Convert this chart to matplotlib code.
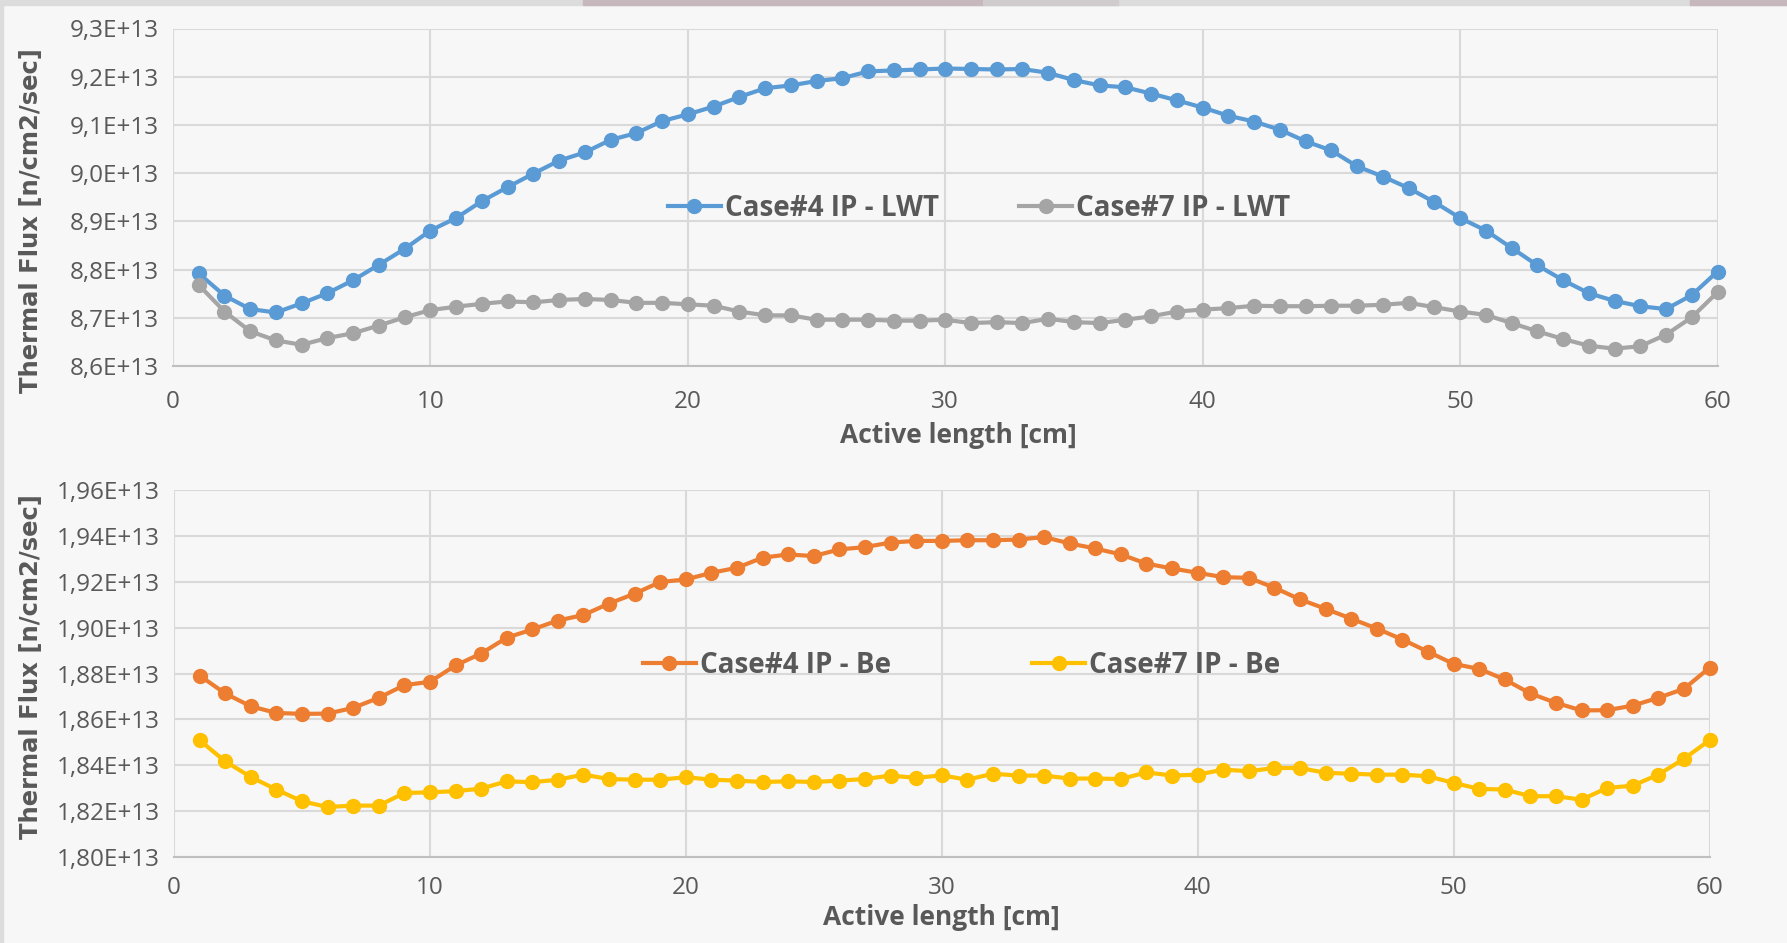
import numpy as np
import matplotlib.pyplot as plt
from matplotlib.patches import Rectangle
from matplotlib.ticker import FuncFormatter

x = list(range(1, 61))

# top chart, units of 1e13 n/cm2/sec
case4_lwt = [8.792, 8.746, 8.718, 8.711, 8.730, 8.751, 8.778, 8.810, 8.843, 8.881,
             8.907, 8.942, 8.971, 8.999, 9.026, 9.043, 9.069, 9.083, 9.108, 9.122,
             9.138, 9.158, 9.176, 9.182, 9.191, 9.197, 9.211, 9.213, 9.215, 9.217,
             9.216, 9.215, 9.216, 9.208, 9.193, 9.182, 9.178, 9.165, 9.151, 9.136,
             9.119, 9.107, 9.090, 9.066, 9.047, 9.014, 8.993, 8.969, 8.940, 8.907,
             8.881, 8.845, 8.809, 8.778, 8.751, 8.735, 8.724, 8.718, 8.747, 8.796]
case7_lwt = [8.768, 8.713, 8.672, 8.653, 8.644, 8.658, 8.668, 8.684, 8.701, 8.716,
             8.723, 8.729, 8.734, 8.732, 8.737, 8.739, 8.737, 8.731, 8.731, 8.728,
             8.725, 8.713, 8.705, 8.705, 8.696, 8.696, 8.696, 8.694, 8.694, 8.696,
             8.689, 8.691, 8.689, 8.698, 8.691, 8.689, 8.696, 8.703, 8.713, 8.717,
             8.720, 8.725, 8.724, 8.724, 8.725, 8.725, 8.727, 8.731, 8.722, 8.713,
             8.706, 8.689, 8.672, 8.656, 8.642, 8.636, 8.641, 8.665, 8.701, 8.753]

# bottom chart
case4_be = [1.8791, 1.8713, 1.8657, 1.8628, 1.8624, 1.8625, 1.8650, 1.8694, 1.8749, 1.8764,
            1.8835, 1.8887, 1.8956, 1.8992, 1.9031, 1.9055, 1.9105, 1.9148, 1.9199, 1.9210,
            1.9239, 1.9261, 1.9305, 1.9319, 1.9312, 1.9341, 1.9351, 1.9371, 1.9378, 1.9378,
            1.9381, 1.9381, 1.9384, 1.9395, 1.9367, 1.9345, 1.9319, 1.9279, 1.9258, 1.9239,
            1.9220, 1.9217, 1.9174, 1.9123, 1.9082, 1.9039, 1.8996, 1.8948, 1.8895, 1.8842,
            1.8820, 1.8774, 1.8713, 1.8672, 1.8639, 1.8640, 1.8660, 1.8694, 1.8733, 1.8825]
case7_be = [1.8509, 1.8417, 1.8349, 1.8294, 1.8243, 1.8218, 1.8224, 1.8224, 1.8279, 1.8282,
            1.8287, 1.8298, 1.8330, 1.8326, 1.8337, 1.8359, 1.8340, 1.8337, 1.8337, 1.8348,
            1.8337, 1.8333, 1.8327, 1.8330, 1.8327, 1.8333, 1.8340, 1.8355, 1.8345, 1.8356,
            1.8337, 1.8363, 1.8355, 1.8355, 1.8342, 1.8342, 1.8340, 1.8369, 1.8355, 1.8359,
            1.8381, 1.8374, 1.8388, 1.8388, 1.8367, 1.8363, 1.8359, 1.8359, 1.8352, 1.8323,
            1.8297, 1.8294, 1.8265, 1.8265, 1.8250, 1.8301, 1.8311, 1.8359, 1.8428, 1.8509]

top_ticks = [8.6, 8.7, 8.8, 8.9, 9.0, 9.1, 9.2, 9.3]
bot_ticks = [1.80, 1.82, 1.84, 1.86, 1.88, 1.90, 1.92, 1.94, 1.96]

txt = "#595959"
bg = "#f7f7f7"

plt.rcParams["font.family"] = ["Open Sans", "DejaVu Sans"]

fig = plt.figure(figsize=(17.87, 9.43), dpi=100, facecolor=bg)

# screenshot strip along the top and left
fig.patches.append(Rectangle((0, 1 - 5 / 943), 1, 5 / 943, transform=fig.transFigure,
                             color="#dcdcdc", zorder=0))
fig.patches.append(Rectangle((583 / 1787, 1 - 5 / 943), 400 / 1787, 5 / 943,
                             transform=fig.transFigure, color="#c6b8bd", zorder=1))
fig.patches.append(Rectangle((983 / 1787, 1 - 5 / 943), 135 / 1787, 5 / 943,
                             transform=fig.transFigure, color="#d0cbcd", zorder=1))
fig.patches.append(Rectangle((1690 / 1787, 1 - 5 / 943), 97 / 1787, 5 / 943,
                             transform=fig.transFigure, color="#c6b8bd", zorder=1))
fig.patches.append(Rectangle((0, 0), 3 / 1787, 1, transform=fig.transFigure,
                             color="#dcdcdc", zorder=0))

ax1 = fig.add_axes([173 / 1787, 1 - 366 / 943, 1544.5 / 1787, 337.5 / 943])
ax2 = fig.add_axes([174 / 1787, 1 - 857 / 943, 1535.5 / 1787, 367 / 943])


def style(ax, yticks, fmt, ylab_pos, xlab_pos, xpad):
    ax.set_facecolor(bg)
    ax.set_xlim(0, 60)
    ax.set_ylim(yticks[0], yticks[-1])
    ax.set_xticks(range(0, 61, 10))
    ax.set_yticks(yticks)
    ax.yaxis.set_major_formatter(FuncFormatter(lambda v, p: (fmt % v).replace(".", ",") + "E+13"))
    ax.grid(True, color="#d9d9d9", lw=1.5)
    ax.set_axisbelow(True)
    for s in ["top", "right", "left"]:
        ax.spines[s].set_visible(False)
    ax.spines["bottom"].set_color("#bfbfbf")
    ax.spines["bottom"].set_linewidth(1.5)
    ax.tick_params(length=0, labelsize=17.5, colors=txt, pad=10)
    ax.tick_params(axis="x", pad=xpad)
    ax.set_ylabel("Thermal Flux [n/cm2/sec]", family="DejaVu Sans", fontweight="bold",
                  fontsize=17.5, color=txt)
    ax.yaxis.set_label_coords(*ylab_pos)
    ax.set_xlabel("Active length [cm]", fontweight="bold", fontsize=19, color=txt)
    ax.xaxis.set_label_coords(*xlab_pos)
    ax.xaxis.label.set_va("center")
    ax.yaxis.label.set_va("center")


style(ax1, top_ticks, "%.1f", (-0.092, 0.43), (0.5086, -0.207), 17)
style(ax2, bot_ticks, "%.2f", (-0.093, 0.518), (0.5, -0.166), 14)

kw = dict(marker="o", lw=3, ms=10, clip_on=False)
ax1.plot(x, case4_lwt, color="#5b9bd5", label="Case#4 IP - LWT", **kw)
ax1.plot(x, case7_lwt, color="#a5a5a5", label="Case#7 IP - LWT", **kw)
ax2.plot(x, case4_be, color="#ed7d31", label="Case#4 IP - Be", **kw)
ax2.plot(x, case7_be, color="#ffc000", label="Case#7 IP - Be", **kw)

for ax, anchor, cs in [(ax1, (0.522, 0.468), 2.9), (ax2, (0.513, 0.522), 5.1)]:
    leg = ax.legend(ncol=2, loc="center", bbox_to_anchor=anchor, frameon=False,
                    handlelength=1.9, handletextpad=0.15, columnspacing=cs,
                    prop={"weight": "bold", "size": 20})
    for t in leg.get_texts():
        t.set_color(txt)

fig.savefig("out.png", dpi=100, facecolor=bg)
